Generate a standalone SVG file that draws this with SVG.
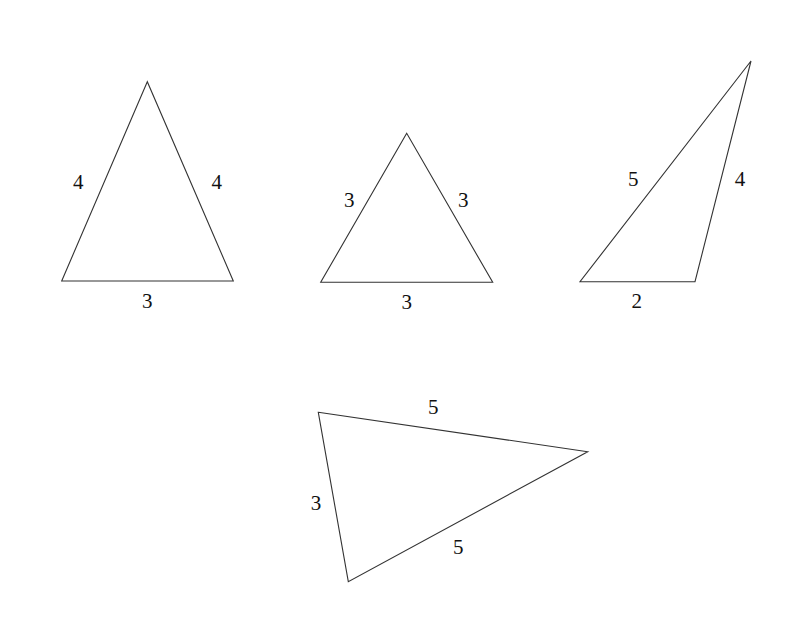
<svg xmlns="http://www.w3.org/2000/svg" width="800" height="618" viewBox="0 0 800 618">
<style>
.t{fill:none;stroke:#333;stroke-width:1.1;stroke-linejoin:miter}
.l{font-family:'Liberation Serif','Times New Roman',Times,serif;font-size:21px;fill:#111;text-anchor:middle}
</style>
<rect width="800" height="618" fill="#fff"/>
<g id="tri1">
<polygon class="t" points="147.3,81.7 61.7,281 233.3,281"/>
<text class="l" font-family="Liberation Serif" x="78.3" y="189">4</text>
<text class="l" font-family="Liberation Serif" x="216.7" y="189">4</text>
<text class="l" font-family="Liberation Serif" x="147.3" y="307.5">3</text>
</g>
<g id="tri2">
<polygon class="t" points="406.7,133.3 320.7,282.3 492.7,282.3"/>
<text class="l" font-family="Liberation Serif" x="349.3" y="206.5">3</text>
<text class="l" font-family="Liberation Serif" x="463.3" y="206.5">3</text>
<text class="l" font-family="Liberation Serif" x="406.7" y="308.5">3</text>
</g>
<g id="tri3">
<polygon class="t" points="751,61 580,281.7 695,281.7"/>
<text class="l" font-family="Liberation Serif" x="633.3" y="185.5">5</text>
<text class="l" font-family="Liberation Serif" x="740" y="185.5">4</text>
<text class="l" font-family="Liberation Serif" x="636.7" y="307.5">2</text>
</g>
<g id="tri4">
<polygon class="t" points="318.3,412.3 587.7,451.7 348.3,581.7"/>
<text class="l" font-family="Liberation Serif" x="433.3" y="413.5">5</text>
<text class="l" font-family="Liberation Serif" x="316" y="510">3</text>
<text class="l" font-family="Liberation Serif" x="458.3" y="554">5</text>
</g>
</svg>
